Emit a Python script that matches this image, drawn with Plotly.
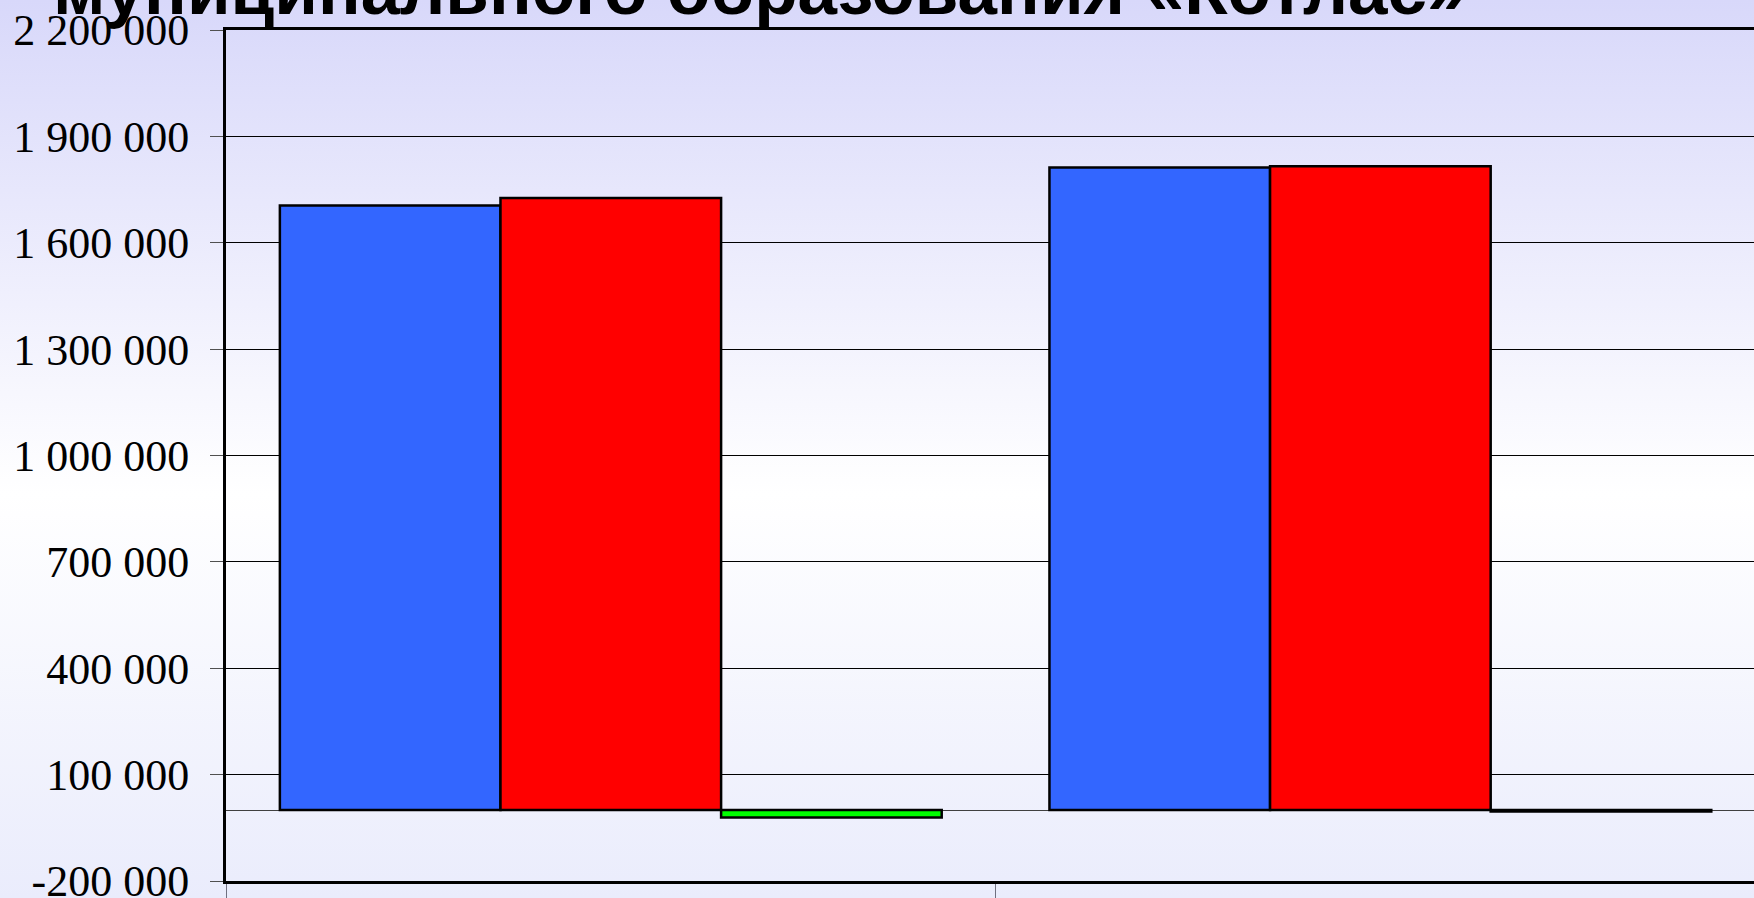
import plotly.graph_objects as go
import urllib.parse

# ---- data ----
categories = ["План", "Исполнение"]
series_names = ["Доходы", "Расходы", "Дефицит (-), профицит (+)"]
incomes = [1705000, 1812000]
expenses = [1726000, 1816000]
balance = [-21000, -4000]
tick_values = [-200000, 100000, 400000, 700000, 1000000, 1300000, 1600000, 1900000, 2200000]
tick_labels = ["-200 000", "100 000", "400 000", "700 000", "1 000 000",
               "1 300 000", "1 600 000", "1 900 000", "2 200 000"]
title_text = "муниципального образования «Котлас»"

W, H = 1754, 898
L, R, T, B = 226, 0, 30, 17
pw, ph = W - L - R, H - T - B

colors = ["#3366FF", "#FF0000", "#00FF00"]
fig = go.Figure()
for name, vals, col in zip(series_names, [incomes, expenses, balance], colors):
    fig.add_trace(go.Bar(x=categories, y=vals, name=name,
                         marker=dict(color=col, line=dict(color="black", width=2.5))))

svg = ('<svg xmlns="http://www.w3.org/2000/svg" width="%d" height="%d" viewBox="0 0 %d %d" preserveAspectRatio="none">'
       '<defs><linearGradient id="g" x1="0" y1="0" x2="0" y2="1">'
       '<stop offset="0" stop-color="#D8D8FA"/>'
       '<stop offset="0.55" stop-color="#FFFFFF"/>'
       '<stop offset="1" stop-color="#EAECFC"/>'
       '</linearGradient></defs><rect width="%d" height="%d" fill="url(#g)"/></svg>') % (W, H, W, H, W, H)
src = "data:image/svg+xml;charset=utf-8," + urllib.parse.quote(svg)

fig.update_layout(
    width=W, height=H,
    margin=dict(l=L, r=R, t=T, b=B, autoexpand=False),
    template="none",
    paper_bgcolor="rgba(0,0,0,0)", plot_bgcolor="rgba(0,0,0,0)",
    showlegend=False,
    barmode="group", bargap=0.14, bargroupgap=0,
    images=[dict(source=src, xref="paper", yref="paper",
                 x=-L / pw, y=(ph + T) / ph, sizex=W / pw, sizey=H / ph,
                 xanchor="left", yanchor="top", sizing="stretch", layer="below")],
    xaxis=dict(range=[-0.5, 1.4855], showline=True, linecolor="black", linewidth=3,
               mirror=True, ticks="outside", tickson="boundaries", ticklen=25,
               tickcolor="#707080", tickwidth=1, showticklabels=False,
               showgrid=False, zeroline=False, automargin=False),
    yaxis=dict(range=[-200000, 2200000], tickvals=tick_values, ticktext=tick_labels,
               showline=True, linecolor="black", linewidth=3, mirror=False,
               ticks="outside", ticklen=13, tickcolor="#505050", tickwidth=1,
               ticklabelstandoff=12, ticklabeloverflow="allow",
               tickfont=dict(family="Liberation Serif", size=44, color="black"),
               showgrid=True, gridcolor="black", gridwidth=1,
               zeroline=True, zerolinecolor="#404040", zerolinewidth=1,
               automargin=False),
    annotations=[dict(text="<b>" + title_text + "</b>", xref="paper", yref="paper",
                      x=(51 - L) / pw, y=(ph + T + 10.5) / ph, xanchor="left", yanchor="middle",
                      showarrow=False,
                      font=dict(family="Liberation Sans", size=71, color="black"))],
)
fig.write_html("out.html", config={"displayModeBar": False},
               post_script="document.body.style.margin='0';document.body.style.overflow='hidden';")
